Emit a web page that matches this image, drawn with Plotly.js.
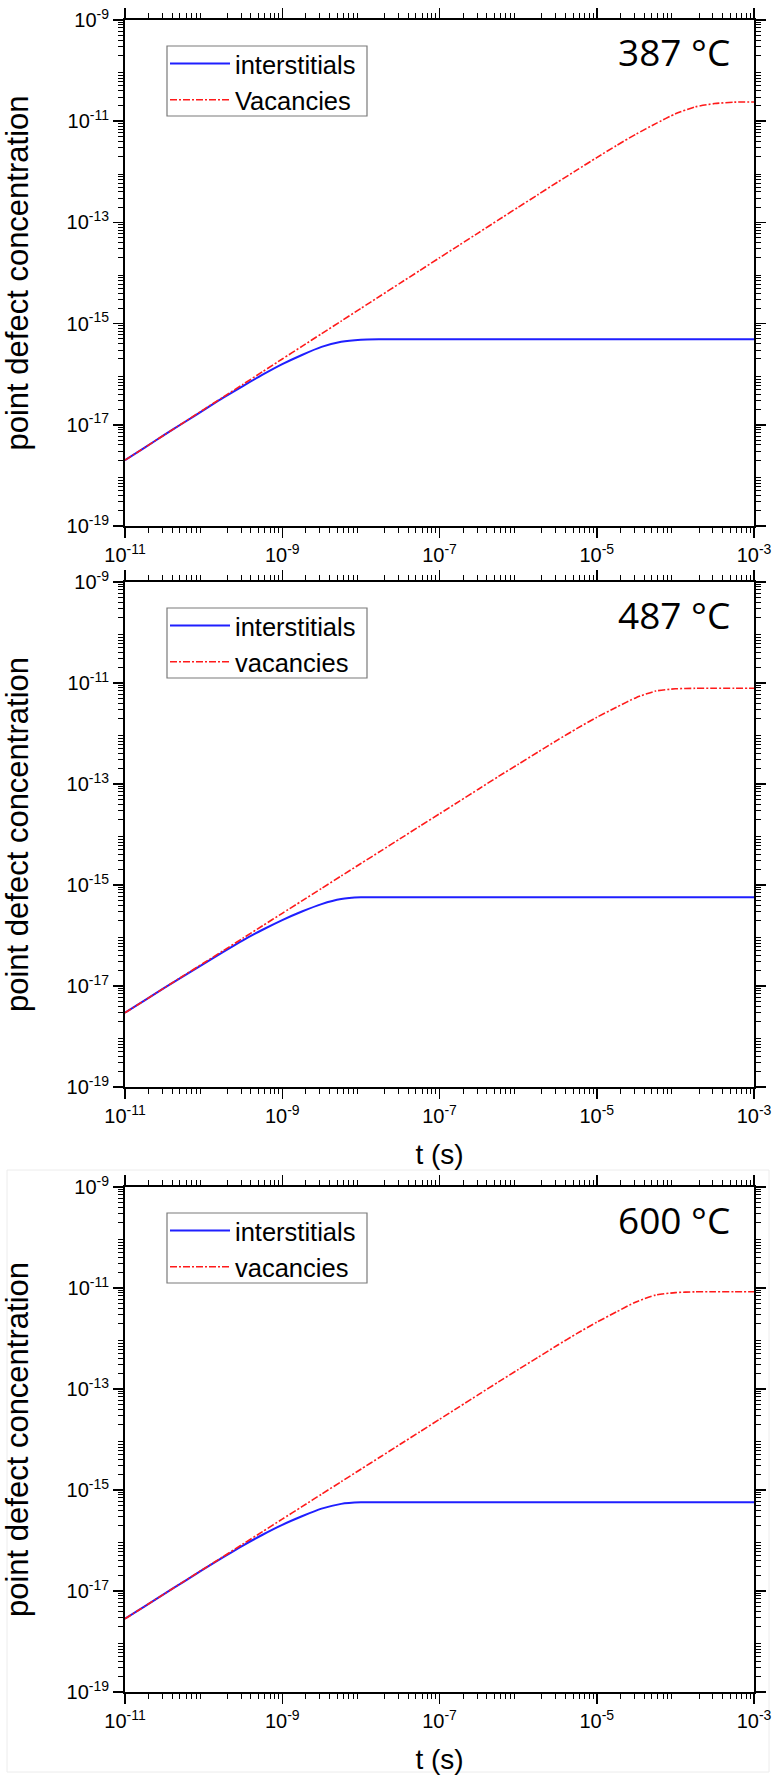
<!DOCTYPE html>
<html>
<head>
<meta charset="utf-8">
<script src="https://cdn.plot.ly/plotly-3.0.1.min.js"></script>
<style>
html, body { margin: 0; padding: 0; background: #ffffff; }
#chart { width: 776px; height: 1777px; }
</style>
</head>
<body>
<div id="chart"></div>
<script>
// ---------- data ----------
const timeS = [1e-11, 1.78e-11, 3.16e-11, 5.62e-11, 1e-10, 1.78e-10, 3.16e-10, 5.62e-10,
  1e-9, 1.78e-9, 3.16e-9, 5.62e-9, 1e-8, 1.78e-8, 3.16e-8, 5.62e-8,
  1e-7, 1.78e-7, 3.16e-7, 5.62e-7, 1e-6, 1.78e-6, 3.16e-6, 5.62e-6,
  1e-5, 1.78e-5, 3.16e-5, 5.62e-5, 1e-4, 1.78e-4, 3.16e-4, 5.62e-4, 1e-3];

const panelTemps = ['387 °C', '487 °C', '600 °C'];
const seriesNames = [['interstitials', 'Vacancies'], ['interstitials', 'vacancies'], ['interstitials', 'vacancies']];

const interstitials387 = [2.00e-18, 3.55e-18, 6.31e-18, 1.11e-17, 1.95e-17, 3.43e-17, 5.82e-17, 9.77e-17,
  1.58e-16, 2.40e-16, 3.47e-16, 4.39e-16, 4.81e-16, 4.89e-16, 4.90e-16, 4.90e-16,
  4.90e-16, 4.90e-16, 4.90e-16, 4.90e-16, 4.90e-16, 4.90e-16, 4.90e-16, 4.90e-16,
  4.90e-16, 4.90e-16, 4.90e-16, 4.90e-16, 4.90e-16, 4.90e-16, 4.90e-16, 4.90e-16, 4.90e-16];
const vacancies387 = [2.00e-18, 3.55e-18, 6.31e-18, 1.12e-17, 2.00e-17, 3.55e-17, 6.31e-17, 1.12e-16,
  2.00e-16, 3.55e-16, 6.31e-16, 1.12e-15, 2.00e-15, 3.55e-15, 6.31e-15, 1.12e-14,
  2.00e-14, 3.55e-14, 6.30e-14, 1.12e-13, 1.99e-13, 3.52e-13, 6.22e-13, 1.09e-12,
  1.91e-12, 3.30e-12, 5.55e-12, 8.95e-12, 1.40e-11, 1.92e-11, 2.23e-11, 2.38e-11, 2.40e-11];

const interstitials487 = [2.95e-18, 5.20e-18, 9.18e-18, 1.59e-17, 2.75e-17, 4.75e-17, 8.04e-17, 1.30e-16,
  2.02e-16, 2.99e-16, 4.19e-16, 5.27e-16, 5.69e-16, 5.75e-16, 5.75e-16, 5.75e-16,
  5.75e-16, 5.75e-16, 5.75e-16, 5.75e-16, 5.75e-16, 5.75e-16, 5.75e-16, 5.75e-16,
  5.75e-16, 5.75e-16, 5.75e-16, 5.75e-16, 5.75e-16, 5.75e-16, 5.75e-16, 5.75e-16, 5.75e-16];
const vacancies487 = [2.95e-18, 5.20e-18, 9.18e-18, 1.62e-17, 2.85e-17, 5.02e-17, 8.85e-17, 1.56e-16,
  2.75e-16, 4.85e-16, 8.55e-16, 1.51e-15, 2.66e-15, 4.69e-15, 8.26e-15, 1.46e-14,
  2.57e-14, 4.53e-14, 7.98e-14, 1.41e-13, 2.45e-13, 4.27e-13, 7.41e-13, 1.26e-12,
  2.09e-12, 3.31e-12, 5.13e-12, 6.92e-12, 7.67e-12, 7.85e-12, 7.85e-12, 7.85e-12, 7.85e-12];

const interstitials600 = [2.82e-18, 4.97e-18, 8.77e-18, 1.54e-17, 2.70e-17, 4.67e-17, 7.94e-17, 1.30e-16,
  2.04e-16, 3.02e-16, 4.27e-16, 5.31e-16, 5.69e-16, 5.75e-16, 5.75e-16, 5.75e-16,
  5.75e-16, 5.75e-16, 5.75e-16, 5.75e-16, 5.75e-16, 5.75e-16, 5.75e-16, 5.75e-16,
  5.75e-16, 5.75e-16, 5.75e-16, 5.75e-16, 5.75e-16, 5.75e-16, 5.75e-16, 5.75e-16, 5.75e-16];
const vacancies600 = [2.82e-18, 4.97e-18, 8.77e-18, 1.55e-17, 2.73e-17, 4.82e-17, 8.51e-17, 1.50e-16,
  2.65e-16, 4.68e-16, 8.26e-16, 1.46e-15, 2.58e-15, 4.55e-15, 8.04e-15, 1.42e-14,
  2.51e-14, 4.43e-14, 7.82e-14, 1.38e-13, 2.42e-13, 4.22e-13, 7.35e-13, 1.26e-12,
  2.10e-12, 3.36e-12, 5.30e-12, 7.25e-12, 8.10e-12, 8.40e-12, 8.45e-12, 8.45e-12, 8.45e-12];

// labelled decades (major ticks with labels) and unlabelled decades (long ticks, no label)
const xLabelVals = [1e-11, 1e-9, 1e-7, 1e-5, 1e-3];
const xLabelText = ['10<sup>-11</sup>', '10<sup>-9</sup>', '10<sup>-7</sup>', '10<sup>-5</sup>', '10<sup>-3</sup>'];
const xPlainDecades = [1e-10, 1e-8, 1e-6, 1e-4];
const yLabelVals = [1e-19, 1e-17, 1e-15, 1e-13, 1e-11, 1e-9];
const yLabelText = ['10<sup>-19</sup>', '10<sup>-17</sup>', '10<sup>-15</sup>', '10<sup>-13</sup>', '10<sup>-11</sup>', '10<sup>-9</sup>'];
const yPlainDecades = [1e-18, 1e-16, 1e-14, 1e-12, 1e-10];

// ---------- styling ----------
const W = 776, H = 1777;
const FONT = 'Liberation Sans, Arial, sans-serif';
const plotLeft = 125, plotRight = 754;
const panels = [{top: 20, bottom: 526}, {top: 582, bottom: 1087}, {top: 1187, bottom: 1692}];

function minorVals(lo, hi) {
  const out = [];
  for (let e = lo; e < hi; e++) {
    for (let m = 2; m <= 9; m++) out.push(m * Math.pow(10, e));
  }
  return out;
}

function axisBase() {
  return {
    type: 'log', tickmode: 'array', ticks: 'outside', ticklen: 10, tickwidth: 1.5,
    tickcolor: '#000', showline: true, linecolor: '#000', linewidth: 2, mirror: 'ticks',
    showgrid: false, zeroline: false,
    tickfont: {family: FONT, size: 20, color: '#000'}
  };
}

const seriesData = [[interstitials387, vacancies387], [interstitials487, vacancies487], [interstitials600, vacancies600]];
const traces = [];
const layout = {
  width: W, height: H, margin: {l: 0, r: 0, t: 0, b: 0},
  paper_bgcolor: '#fff', plot_bgcolor: '#fff',
  font: {family: FONT, color: '#000'},
  showlegend: true, annotations: [], shapes: []
};

panels.forEach((p, i) => {
  const n = i === 0 ? '' : String(i + 1);
  const on = String(i + 4);
  const legName = 'legend' + n;
  traces.push({
    x: timeS, y: seriesData[i][0], name: seriesNames[i][0], type: 'scatter', mode: 'lines',
    xaxis: 'x' + n, yaxis: 'y' + n, legend: legName,
    line: {color: '#1f1fff', width: 2, shape: 'spline', smoothing: 0.6}
  });
  traces.push({
    x: timeS, y: seriesData[i][1], name: seriesNames[i][1], type: 'scatter', mode: 'lines',
    xaxis: 'x' + n, yaxis: 'y' + n, legend: legName,
    line: {color: '#ff1a1a', width: 1.6, dash: '7px,2px,2px,2px', shape: 'spline', smoothing: 0.6}
  });

  const xDomain = [plotLeft / W, plotRight / W];
  const yDomain = [1 - p.bottom / H, 1 - p.top / H];

  const xa = Object.assign(axisBase(), {
    range: [-11, -3], anchor: 'y' + n, domain: xDomain,
    tickvals: xLabelVals, ticktext: xLabelText,
    minor: {tickvals: minorVals(-11, -3), ticks: 'outside', ticklen: 5, tickwidth: 1, tickcolor: '#000', showgrid: false}
  });
  if (i > 0) {
    xa.title = {text: 't (s)', font: {family: FONT, size: 28, color: '#000'}, standoff: 18};
  }
  const ya = Object.assign(axisBase(), {
    range: [-19, -9], anchor: 'x' + n, domain: yDomain,
    tickvals: yLabelVals, ticktext: yLabelText,
    minor: {tickvals: minorVals(-19, -9), ticks: 'outside', ticklen: 5, tickwidth: 1, tickcolor: '#000', showgrid: false},
    title: {text: 'point defect concentration', font: {family: FONT, size: 31, color: '#000'}, standoff: 30}
  });
  layout['xaxis' + n] = xa;
  layout['yaxis' + n] = ya;

  // overlay axes carrying the long ticks of the unlabelled decades
  layout['xaxis' + on] = {
    type: 'log', range: [-11, -3], overlaying: 'x' + n, anchor: 'y' + n, side: 'bottom',
    tickmode: 'array', tickvals: xPlainDecades, showticklabels: false,
    ticks: 'outside', ticklen: 10, tickwidth: 1.5, tickcolor: '#000',
    showline: false, mirror: 'ticks', showgrid: false, zeroline: false
  };
  layout['yaxis' + on] = {
    type: 'log', range: [-19, -9], overlaying: 'y' + n, anchor: 'x' + n, side: 'left',
    tickmode: 'array', tickvals: yPlainDecades, showticklabels: false,
    ticks: 'outside', ticklen: 10, tickwidth: 1.5, tickcolor: '#000',
    showline: false, mirror: 'ticks', showgrid: false, zeroline: false
  };

  // legend: frame drawn as a shape, entries by the legend itself
  layout.shapes.push({
    type: 'rect', xref: 'paper', yref: 'paper', layer: 'above',
    x0: 167 / W, x1: 367 / W, y0: 1 - (p.top + 96) / H, y1: 1 - (p.top + 26) / H,
    line: {color: '#7a7a7a', width: 1.2}, fillcolor: '#ffffff'
  });
  layout[legName] = {
    x: 165 / W, y: 1 - (p.top + 20.5) / H, xanchor: 'left', yanchor: 'top',
    bgcolor: 'rgba(0,0,0,0)', borderwidth: 0,
    font: {family: FONT, size: 25.5, color: '#000'},
    itemwidth: 60, tracegroupgap: 0
  };

  layout.annotations.push({
    xref: 'paper', yref: 'paper', x: 732 / W, y: 1 - (p.top + 32) / H,
    xanchor: 'right', yanchor: 'middle', showarrow: false,
    text: panelTemps[i], font: {family: 'Open Sans, Noto Sans, sans-serif', size: 37, color: '#000'}
  });
});

layout.shapes.push({
  type: 'rect', xref: 'paper', yref: 'paper', layer: 'below',
  x0: 7 / W, x1: 769 / W, y0: 1 - 1772 / H, y1: 1 - 1170 / H,
  line: {color: '#ececec', width: 1}
});

Plotly.newPlot('chart', traces, layout, {displayModeBar: false, staticPlot: true});
</script>
</body>
</html>
